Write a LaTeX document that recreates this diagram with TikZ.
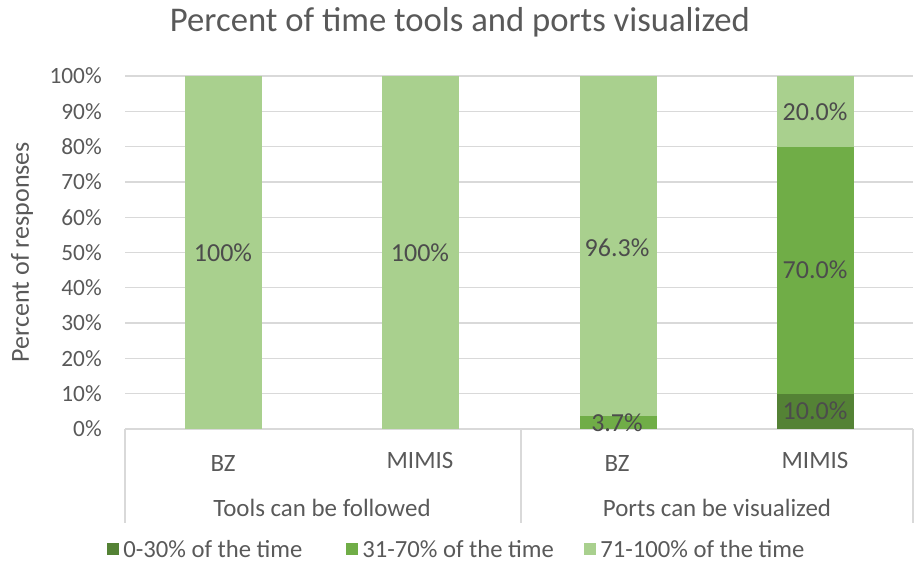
\documentclass[tikz,border=0pt]{standalone}
\usepackage{fontspec}
\setmainfont{Carlito}
\usepackage{xcolor}
\definecolor{txtgray}{RGB}{89,89,89}
\definecolor{gridgray}{RGB}{217,217,217}
\definecolor{darkgrn}{RGB}{84,130,53}
\definecolor{midgrn}{RGB}{112,173,71}
\definecolor{litegrn}{RGB}{169,208,142}

\begin{document}
\begin{tikzpicture}[x=0.75pt,y=0.75pt,yscale=-1,xscale=1,
    ticklbl/.style={anchor=east,inner sep=0.75pt,text=txtgray,font=\fontsize{17.5}{20}\selectfont},
    datalbl/.style={inner sep=0.75pt,text=black!70,font=\fontsize{19.5}{22}\selectfont},
    catlbl/.style={inner sep=0.75pt,text=txtgray,font=\fontsize{18.7}{22}\selectfont},
    leglbl/.style={anchor=west,inner sep=0.75pt,text=txtgray,font=\fontsize{18.5}{22}\selectfont},
    gridln/.style={draw=gridgray,line width=1pt}]
    \path[use as bounding box] (0,0) rectangle (915,575);

    %Title
    \draw (460,22) node [inner sep=0.75pt,text=txtgray,font=\fontsize{26}{30}\selectfont] (title) {Percent of time tools and ports visualized};

    %Gridlines and tick labels
    \foreach \p in {0,10,...,100}{
      \draw [gridln] (125,{429-3.53*\p}) -- (913,{429-3.53*\p});
      \draw (103,{429-3.53*\p}) node [ticklbl] (tick\p) {\p\%};
    }
    %Axis title
    \draw (22,252) node [rotate=90,inner sep=0.75pt,text=txtgray,font=\fontsize{19.5}{22}\selectfont] (ytitle) {Percent of responses};

    %Bars: Tools can be followed
    \fill [litegrn] (185,429) rectangle (262,76);
    \fill [litegrn] (382,429) rectangle (459,76);
    %Bars: Ports can be visualized
    \fill [midgrn] (580,429) rectangle (657,{429-3.53*3.7});
    \fill [litegrn] (580,{429-3.53*3.7}) rectangle (657,76);
    \fill [darkgrn] (777,429) rectangle (854,{429-3.53*10});
    \fill [midgrn] (777,{429-3.53*10}) rectangle (854,{429-3.53*80});
    \fill [litegrn] (777,{429-3.53*80}) rectangle (854,76);

    % Data labels
    \draw (223,253) node [datalbl] (bzTools) {100\%};
    \draw (420,253) node [datalbl] (mimisTools) {100\%};
    \draw (617,248) node [datalbl] (bzHigh) {96.3\%};
    \draw (617,423) node [datalbl] (bzMid) {3.7\%};
    \draw (815,112) node [datalbl] (mimisHigh) {20.0\%};
    \draw (815,270) node [datalbl] (mimisMid) {70.0\%};
    \draw (815,411) node [datalbl] (mimisLow) {10.0\%};

    %Category axis
    \draw [gridln] (125,429) -- (125,523);
    \draw [gridln] (521,429) -- (521,523);
    \draw [gridln] (913,429) -- (913,523);
    \draw (223,463) node [catlbl] (catBZa) {BZ};
    \draw (420,460) node [catlbl] (catMIMISa) {MIMIS};
    \draw (617,463) node [catlbl] (catBZb) {BZ};
    \draw (815,460) node [catlbl] (catMIMISb) {MIMIS};
    \draw (322,508) node [catlbl] (grpTools) {Tools can be followed};
    \draw (717,508) node [catlbl] (grpPorts) {Ports can be visualized};

    %Legend
    \fill [darkgrn] (107,543) rectangle (119,555);
    \draw (122,549) node [leglbl] (legLow) {0-30\% of the time};
    \fill [midgrn] (346,543) rectangle (358,555);
    \draw (361,549) node [leglbl] (legMid) {31-70\% of the time};
    \fill [litegrn] (584,543) rectangle (596,555);
    \draw (599,549) node [leglbl] (legHigh) {71-100\% of the time};

\end{tikzpicture}
\end{document}
